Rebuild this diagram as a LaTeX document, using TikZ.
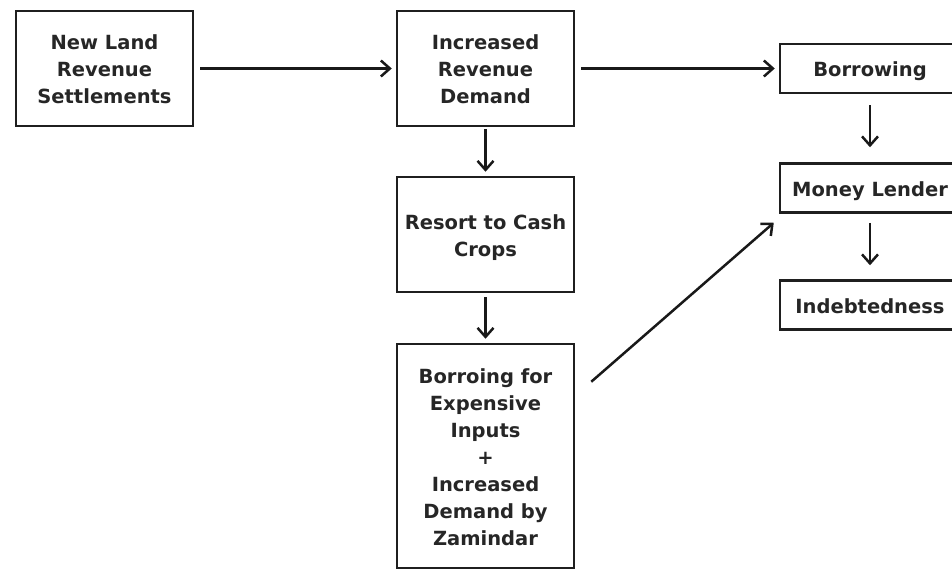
\documentclass[tikz,border=0pt]{standalone}
\usepackage{fontspec}
\setmainfont{DejaVu Sans}
\usetikzlibrary{arrows.meta}
\newcommand\boxtxt[1]{\raisebox{-3pt}[\height][\depth]{\begin{tabular}{@{}c@{}}#1\end{tabular}}}
\begin{document}
\begin{tikzpicture}[x=1pt,y=-1pt,
  box/.style={draw=black!88,line width=2.5pt,rectangle,align=center,inner sep=0pt,
    font=\fontsize{19.5}{27}\selectfont\bfseries,text=black!85},
  bigbox/.style={box,minimum width=177pt,minimum height=115pt},
  smallbox/.style={box,minimum width=180pt,minimum height=49pt},
  arr/.style={draw=black!90,line width=2.5pt,-{Straight Barb[length=9pt,width=16pt,line width=2.5pt]}}]
\useasboundingbox (0,0) rectangle (952,571);
\node[bigbox] (b1) at (104.5,68.5) {\boxtxt{New Land\\Revenue\\Settlements}};
\node[bigbox] (b2) at (485.5,68.5) {\boxtxt{Increased\\Revenue\\Demand}};
\node[bigbox] (b3) at (485.5,234.5) {\boxtxt{Resort to Cash\\Crops}};
\node[bigbox,minimum height=224pt] (b4) at (485.5,456) {\boxtxt{Borroing for\\Expensive\\Inputs\\+\\Increased\\Demand by\\Zamindar}};
\node[smallbox] (bo) at (870,68.5) {\boxtxt{Borrowing}};
\node[smallbox] (ml) at (870,188) {\boxtxt{Money Lender}};
\node[smallbox] (in) at (870,305) {\boxtxt{Indebtedness}};
\draw[arr,shorten <=6pt,shorten >=4pt] (b1) -- (b2);
\draw[arr,shorten <=6pt,shorten >=4pt] (b2.east) -- (bo.west);
\draw[arr,shorten <=2pt,shorten >=4pt] (b2) -- (b3);
\draw[arr,shorten <=4pt,shorten >=4pt] (b3) -- (b4);
\draw[arr,shorten <=11pt,shorten >=15pt] (bo.south) -- (ml.north);
\draw[arr,shorten <=9pt,shorten >=14pt] (ml.south) -- (in.north);
\draw[arr] ([xshift=16pt,yshift=-39pt]b4.north east) -- ([xshift=-5pt,yshift=-9pt]ml.south west);
\end{tikzpicture}
\end{document}
